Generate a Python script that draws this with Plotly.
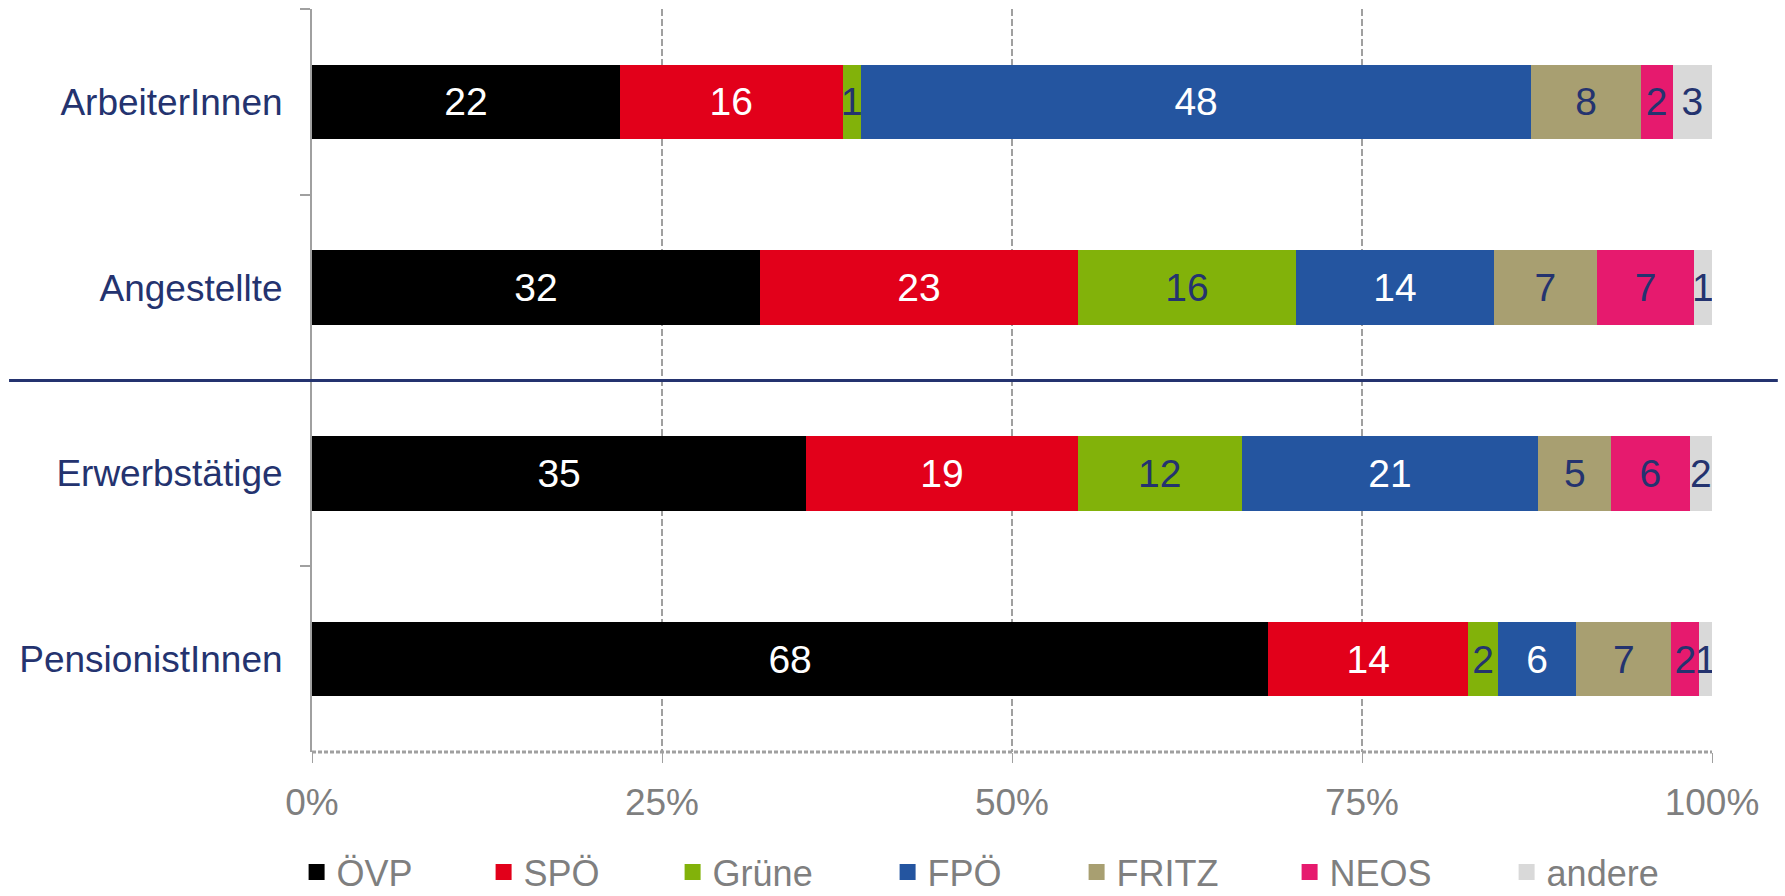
import plotly.graph_objects as go

# categories (top to bottom)
groups = ["ArbeiterInnen", "Angestellte", "Erwerbstätige", "PensionistInnen"]

# shares in percent
oevp   = [22.0, 32.0, 35.3, 68.3]
spoe   = [15.9, 22.7, 19.4, 14.3]
gruene = [1.3, 15.6, 11.7, 2.1]
fpoe   = [47.9, 14.1, 21.2, 5.6]
fritz  = [7.8, 7.4, 5.2, 6.8]
neos   = [2.3, 6.9, 5.6, 2.0]
andere = [2.8, 1.3, 1.6, 0.9]

parties = ["ÖVP", "SPÖ", "Grüne", "FPÖ", "FRITZ", "NEOS", "andere"]
series = [oevp, spoe, gruene, fpoe, fritz, neos, andere]
colors = ["#000000", "#E2001A", "#82B20A", "#2455A0", "#A89F71", "#E61A6E", "#D9D9D9"]

xticks = [0, 25, 50, 75, 100]
xticklabels = ["0%", "25%", "50%", "75%", "100%"]

NAVY = "#24336F"
GREY = "#A0A0A0"
FONT = "Arial, Liberation Sans, sans-serif"
label_colors = ["white", "white", NAVY, "white", NAVY, NAVY, NAVY]
legend_widths = [142, 144, 170, 144, 168, 172, 120]  # px per legend entry text

fig = go.Figure()

for name, vals, clr, tclr in zip(parties, series, colors, label_colors):
    fig.add_trace(go.Bar(
        y=groups, x=vals, orientation="h", name=name,
        marker=dict(color=clr, line=dict(width=0)),
        text=[f"{v:.0f}" for v in vals], textposition="inside",
        insidetextanchor="middle", constraintext="none",
        textfont=dict(family=FONT, size=39, color=tclr),
        showlegend=False, hoverinfo="x+name",
    ))

# legend entries with bigger squares
for name, clr, lw in zip(parties, colors, legend_widths):
    fig.add_trace(go.Scatter(
        x=[None], y=[None], mode="markers", name=name,
        marker=dict(symbol="square", size=16, color=clr),
        showlegend=True, legendwidth=lw,
    ))

fig.update_layout(
    barmode="stack", bargap=0.6,
    width=1785, height=896,
    margin=dict(l=312, r=73, t=9, b=144, autoexpand=False),
    paper_bgcolor="white", plot_bgcolor="white",
    font=dict(family=FONT, size=37, color="#7F7F7F"),
    legend=dict(orientation="h", x=-0.011, xanchor="left", y=-0.1615, yanchor="middle",
                font=dict(size=36, color="#7F7F7F"),
                itemwidth=30, traceorder="normal"),
)

fig.update_xaxes(
    range=[0, 100], tickvals=xticks, ticktext=xticklabels,
    showgrid=True, gridcolor=GREY, gridwidth=2, griddash="7px,3px",
    showline=False, zeroline=False,
    ticks="outside", ticklen=10, tickcolor=GREY, tickwidth=1,
    tickfont=dict(family=FONT, size=37, color="#7F7F7F"),
    ticklabelstandoff=8,
)
fig.update_yaxes(
    autorange="reversed", showgrid=False, zeroline=False,
    showline=True, linecolor=GREY, linewidth=2,
    ticks="outside", tickson="boundaries", ticklen=10, tickcolor=GREY, tickwidth=2,
    tickfont=dict(family=FONT, size=37, color=NAVY),
    ticklabelstandoff=20,
)

# dashed bottom axis line
fig.add_shape(type="line", xref="x domain", yref="y domain", x0=0, x1=1, y0=0, y1=0,
              line=dict(color=GREY, width=3, dash="4px,2px"), layer="above")
# separator between Angestellte and Erwerbstätige
fig.add_shape(type="line", xref="paper", yref="y", x0=-0.2164, x1=1.047, y0=1.5, y1=1.5,
              line=dict(color=NAVY, width=3), layer="above")

fig.write_html("out.html", config={"displayModeBar": False},
               post_script="document.body.style.margin='0';")
